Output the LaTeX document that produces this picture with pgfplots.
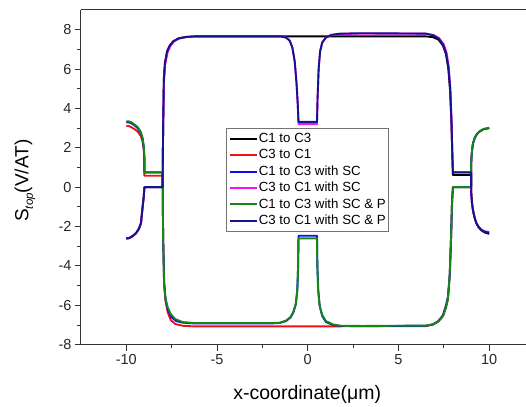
\documentclass[border=0pt]{standalone}
\usepackage{fontspec}
\setmainfont{Liberation Sans}
\usepackage{pgfplots}
\pgfplotsset{compat=1.18}

\definecolor{cgreen}{RGB}{20,135,20}
\definecolor{cnavy}{RGB}{20,20,140}
\definecolor{cred}{RGB}{235,20,20}
\definecolor{cblue}{RGB}{10,10,245}
\definecolor{cmag}{RGB}{240,20,240}

\begin{document}
\begin{tikzpicture}
\begin{axis}[
    scale only axis,
    width=445pt, height=335pt,
    xmin=-12.5, xmax=12, ymin=-8, ymax=9,
    separate axis lines,
    axis x line*=box,
    axis y line*=left,
    axis line style={draw=black!80, line width=1pt},
    xtick={-10,-5,0,5,10},
    ytick={-8,-6,-4,-2,0,2,4,6,8},
    minor x tick num=1,
    minor y tick num=1,
    xtick pos=bottom, ytick pos=left,
    tick align=outside,
    major tick length=6pt, minor tick length=3.5pt,
    tick style={black!80, line width=0.9pt},
    /pgf/number format/assume math mode=true,
    tick label style={font=\fontsize{14.5}{16}\selectfont, text=black!85},
    every axis x label/.style={at={(axis description cs:0.509,-0.149)}, anchor=center},
    every axis y label/.style={at={(axis description cs:-0.126,0.49)}, rotate=90, anchor=center},
    xlabel={\fontsize{19.5}{21}\selectfont x-coordinate(μm)},
    ylabel={\fontsize{19}{21}\selectfont S\raisebox{-0.45ex}{\fontsize{11.5}{12}\selectfont\itshape top}(V/AT)},
    legend cell align=left,
    legend image code/.code={\draw[#1, line width=2pt] (0pt,0pt) -- (27pt,0pt);},
    legend style={at={(axis cs:-4.48,3.0)}, anchor=north west,
        draw=black!55, line width=0.8pt,
        font=\fontsize{13.3}{15}\selectfont,
        inner xsep=2pt, inner ysep=3pt,
        row sep=1.6pt,
        nodes={inner sep=1pt, text height=10pt, text depth=2.8pt}},
    every axis plot/.append style={line width=1.9pt, line join=round},
    clip=false,
]
% C1 to C3
\addplot[black] coordinates {
(-10,-2.6) (-9.83,-2.58) (-9.65,-2.48) (-9.46,-2.33) (-9.3,-2.1) (-9.19,-1.82) (-9.1,-1.0) (-9.04,-0.5) (-9.0,0)
(-8.0,0) (-7.97,3.0) (-7.93,5.5) (-7.87,6.3) (-7.75,6.9) (-7.6,7.2) (-7.4,7.42) (-7.1,7.56) (-6.7,7.63) (-6.2,7.66)
(0,7.66) (6.5,7.66) (6.9,7.62) (7.2,7.5) (7.45,7.2) (7.62,6.75) (7.75,6.0) (7.85,4.8) (7.92,3.2) (7.97,1.5) (8.0,0.62)
(9.0,0.62) (9.01,-0.3) (9.05,-0.8) (9.1,-1.15) (9.18,-1.5) (9.29,-1.84) (9.42,-2.05) (9.56,-2.19) (9.75,-2.3) (10,-2.37)
};
\addlegendentry{C1 to C3}
% C3 to C1
\addplot[cred] coordinates {
(-10,3.12) (-9.85,3.1) (-9.73,3.05) (-9.55,2.95) (-9.37,2.82) (-9.2,2.6) (-9.1,2.3) (-9.04,1.9) (-9.0,1.3) (-9.0,0.58)
(-8.0,0.58) (-7.97,-2.5) (-7.92,-4.8) (-7.85,-5.7) (-7.72,-6.35) (-7.55,-6.75) (-7.3,-6.95) (-6.9,-7.04) (-6.3,-7.07)
(0,-7.07) (6.5,-7.06) (6.9,-6.98) (7.2,-6.82) (7.45,-6.55) (7.62,-6.1) (7.72,-5.7) (7.82,-4.5) (7.9,-2.5) (7.95,-0.8) (8.0,0)
(9.0,0) (9.0,1.0) (9.02,1.5) (9.06,1.9) (9.1,2.2) (9.2,2.5) (9.32,2.7) (9.47,2.83) (9.7,2.95) (10,3.0)
};
\addlegendentry{C3 to C1}
% C1 to C3 with SC
\addplot[cblue] coordinates {
(-10,3.3) (-9.85,3.29) (-9.73,3.25) (-9.55,3.14) (-9.37,3.0) (-9.2,2.76) (-9.1,2.45) (-9.04,2.05) (-9.0,1.45) (-9.0,0.75)
(-8.0,0.75) (-7.97,-2.5) (-7.91,-4.9) (-7.83,-5.75) (-7.7,-6.25) (-7.52,-6.6) (-7.25,-6.8) (-6.9,-6.88) (-6.3,-6.92)
(-2.0,-6.92) (-1.56,-6.9) (-1.2,-6.8) (-0.95,-6.62) (-0.8,-6.38) (-0.66,-5.95) (-0.58,-5.25) (-0.53,-4.0) (-0.51,-2.47)
(0.51,-2.47) (0.53,-4.0) (0.58,-5.25) (0.66,-6.05) (0.8,-6.55) (1.0,-6.85) (1.38,-7.0) (1.8,-7.05)
(3,-7.06) (6.5,-7.04) (6.9,-6.97) (7.2,-6.8) (7.45,-6.5) (7.62,-6.0) (7.74,-5.5) (7.83,-4.4) (7.9,-2.5) (7.95,-0.8) (8.0,0)
(9.0,0) (9.0,1.0) (9.02,1.5) (9.06,1.9) (9.1,2.2) (9.2,2.5) (9.32,2.7) (9.47,2.83) (9.7,2.95) (10,3.0)
};
\addlegendentry{C1 to C3 with SC}
% C3 to C1 with SC
\addplot[cmag] coordinates {
(-10,-2.63) (-9.83,-2.6) (-9.65,-2.5) (-9.46,-2.35) (-9.3,-2.12) (-9.19,-1.84) (-9.1,-1.0) (-9.04,-0.5) (-9.0,0)
(-8.0,0) (-7.97,3.0) (-7.92,5.4) (-7.85,6.25) (-7.72,6.85) (-7.55,7.2) (-7.35,7.42) (-7.05,7.56) (-6.7,7.63) (-6.2,7.66)
(-1.5,7.66) (-1.2,7.6) (-1.0,7.45) (-0.85,7.1) (-0.72,6.4) (-0.62,5.3) (-0.55,4.2) (-0.51,3.2)
(0.51,3.2) (0.54,4.5) (0.6,6.0) (0.68,6.9) (0.8,7.35) (1.0,7.6) (1.3,7.72) (1.8,7.78)
(3,7.8) (6.5,7.8) (6.95,7.72) (7.25,7.56) (7.5,7.25) (7.66,6.8) (7.77,6.1) (7.86,5.0) (7.92,3.4) (7.97,1.6) (8.0,0.75)
(9.0,0.75) (9.01,-0.3) (9.05,-0.8) (9.1,-1.15) (9.18,-1.5) (9.29,-1.82) (9.42,-2.02) (9.56,-2.16) (9.75,-2.24) (10,-2.28)
};
\addlegendentry{C3 to C1 with SC}
% C1 to C3 with SC & P
\addplot[cgreen] coordinates {
(-10,3.35) (-9.85,3.34) (-9.73,3.3) (-9.55,3.18) (-9.37,3.05) (-9.2,2.8) (-9.1,2.5) (-9.04,2.1) (-9.0,1.5) (-9.0,0.75)
(-8.0,0.75) (-7.97,-2.5) (-7.92,-4.8) (-7.85,-5.6) (-7.72,-6.1) (-7.55,-6.45) (-7.3,-6.7) (-6.9,-6.85) (-6.3,-6.9)
(-2.0,-6.9) (-1.56,-6.89) (-1.2,-6.78) (-0.95,-6.6) (-0.8,-6.35) (-0.65,-5.9) (-0.57,-5.2) (-0.53,-4.0) (-0.51,-2.6)
(0.51,-2.6) (0.53,-4.0) (0.57,-5.2) (0.65,-6.0) (0.8,-6.5) (1.0,-6.8) (1.38,-6.97) (1.8,-7.04)
(3,-7.05) (6.5,-7.03) (6.9,-6.97) (7.2,-6.82) (7.45,-6.55) (7.62,-6.1) (7.72,-5.7) (7.82,-4.5) (7.9,-2.5) (7.95,-0.8) (8.0,0)
(9.0,0) (9.0,1.0) (9.02,1.5) (9.06,1.9) (9.1,2.2) (9.2,2.5) (9.32,2.7) (9.47,2.83) (9.7,2.95) (10,3.02)
};
\addlegendentry{C1 to C3 with SC \& P}
% C3 to C1 with SC & P
\addplot[cnavy] coordinates {
(-10,-2.6) (-9.83,-2.58) (-9.65,-2.48) (-9.46,-2.33) (-9.3,-2.1) (-9.19,-1.82) (-9.1,-1.0) (-9.04,-0.5) (-9.0,0)
(-8.0,0) (-7.97,3.0) (-7.93,5.5) (-7.87,6.3) (-7.75,6.9) (-7.6,7.2) (-7.4,7.42) (-7.1,7.56) (-6.7,7.63) (-6.2,7.66)
(-1.5,7.66) (-1.2,7.6) (-1.0,7.45) (-0.85,7.1) (-0.72,6.4) (-0.62,5.3) (-0.55,4.2) (-0.51,3.32)
(0.51,3.32) (0.54,4.5) (0.6,6.0) (0.68,6.9) (0.8,7.35) (1.0,7.6) (1.3,7.74) (1.8,7.8)
(3,7.82) (6.5,7.8) (6.9,7.72) (7.2,7.56) (7.45,7.25) (7.62,6.8) (7.75,6.1) (7.85,5.0) (7.92,3.4) (7.97,1.6) (8.0,0.75)
(9.0,0.75) (9.01,-0.3) (9.05,-0.8) (9.1,-1.15) (9.18,-1.5) (9.29,-1.82) (9.42,-2.02) (9.56,-2.16) (9.75,-2.27) (10,-2.31)
};
\addlegendentry{C3 to C1 with SC \& P}
\coordinate (tl) at (rel axis cs:0,1);
\coordinate (br) at (rel axis cs:1,0);
\end{axis}
\path ([shift={(-81pt,10pt)}]tl) rectangle ([shift={(0pt,-62pt)}]br);
\end{tikzpicture}
\end{document}
